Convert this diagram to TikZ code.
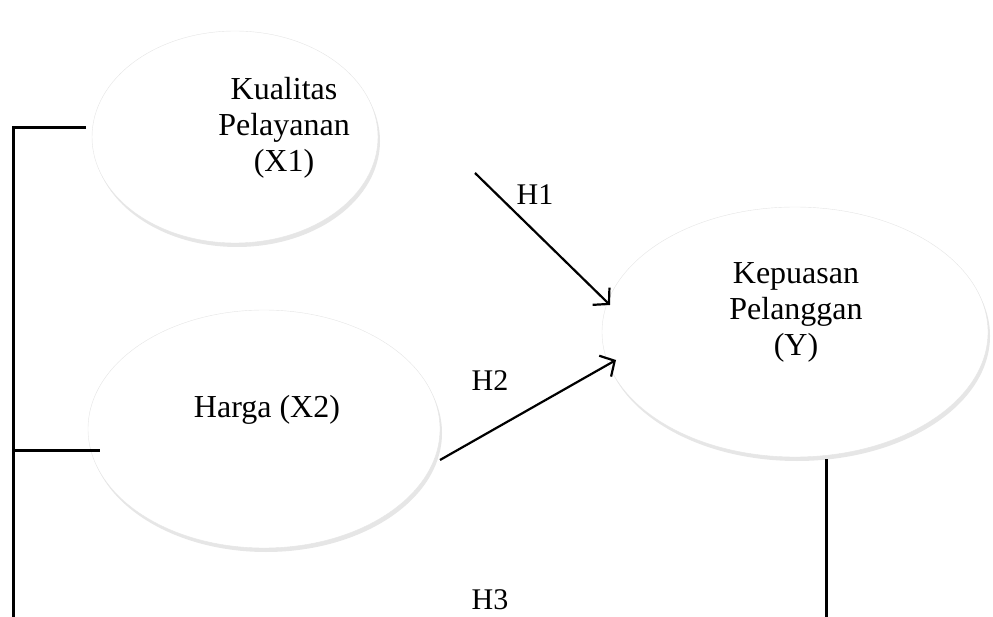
\documentclass[tikz,border=0pt]{standalone}
\usepackage{fontspec}
\setmainfont{Liberation Serif}
\usetikzlibrary{arrows.meta,shadows}
\pgfdeclareradialshading{bevel}{\pgfpoint{0bp}{0bp}}{color(0bp)=(white); color(34bp)=(white); color(44bp)=(black!7); color(48.5bp)=(black!20); color(50bp)=(black!32)}
\begin{document}
\begin{tikzpicture}[x=1pt,y=-1pt,
  var/.style={shading=bevel, draw=black!10, line width=0.4pt,
    drop shadow={opacity=0.2, shadow xshift=2pt, shadow yshift=-4pt}},
  lbl/.style={font=\fontsize{32}{36}\selectfont, align=center, inner sep=0pt},
  hlbl/.style={font=\fontsize{30}{34}\selectfont, inner sep=0pt},
  bracket/.style={line width=3pt},
  arr/.style={line width=2.2pt, -{Straight Barb[length=11pt,width=24pt]}}]
\useasboundingbox (0,0) rectangle (993,617);
% ellipses
\path[var] (235,137) ellipse [x radius=143, y radius=106];
\path[var] (264,429) ellipse [x radius=176, y radius=119];
\path[var] (795,332) ellipse [x radius=193, y radius=125];
% texts
\node[lbl] (X1) at (284,128) {Kualitas\\Pelayanan\\(X1)};
\node[lbl] (X2) at (267,410) {Harga (X2)};
\node[lbl] (Y) at (796,312) {Kepuasan\\Pelanggan\\(Y)};
\node[hlbl] (H1) at (535,195) {H1};
\node[hlbl] (H2) at (490,381) {H2};
\node[hlbl] (H3) at (490,600) {H3};
% bracket coordinates
\coordinate (a1) at (86,128);
\coordinate (a2) at (100,450);
\coordinate (b1) at (13,128);
\coordinate (b2) at (13,450);
\coordinate (b3) at (13,617);
\coordinate (c1) at (826,459);
\coordinate (c2) at (826,617);
\draw[bracket] (a1) -- (b1) -- (b3);
\draw[bracket] (b2) -- (a2);
\draw[bracket] (c1) -- (c2);
% arrows
\coordinate (h1s) at (475,173);
\coordinate (h1e) at (610,305);
\coordinate (h2s) at (440,460);
\coordinate (h2e) at (616,360);
\draw[arr] (h1s) -- (h1e);
\draw[arr] (h2s) -- (h2e);
\end{tikzpicture}
\end{document}
